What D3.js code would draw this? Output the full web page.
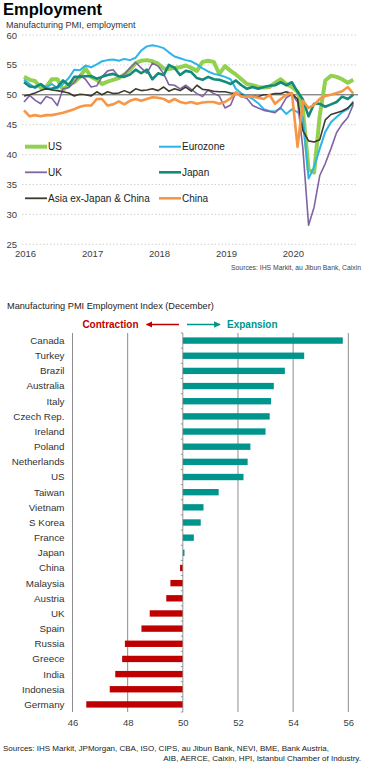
<!DOCTYPE html>
<html>
<head>
<meta charset="utf-8">
<script src="https://cdn.jsdelivr.net/npm/d3@7"></script>
<style>
  html, body { margin: 0; padding: 0; background: #fff; }
  svg { display: block; font-family: "Liberation Sans", Arial, sans-serif; }
</style>
</head>
<body>
<svg id="chart" width="374" height="783"></svg>
<script>
// --- line chart data (monthly, Jan 2016 - Dec 2020) ---
const months = d3.timeMonth.range(new Date(2016, 0, 1), new Date(2021, 0, 1));
const yearTicks = [2016, 2017, 2018, 2019, 2020];
const lineTicks = [25, 30, 35, 40, 45, 50, 55, 60];

const usVals = [53, 52.5, 52.3, 51.2, 51.3, 52.6, 52.6, 50.8, 51.8, 52.1, 53, 54.4,
  53, 52.5, 51.8, 52.2, 52.5, 52.8, 53.4, 54.2, 55.3, 55.7, 55.8, 55.6,
  55.2, 54.4, 54.3, 54.5, 54.6, 54.9, 54.5, 54, 55.5, 55.7, 55.5, 53.5,
  54.8, 54, 53.4, 52.6, 51.8, 51.6, 51.3, 51.2, 51.3, 52, 52.6, 51.8,
  51.3, 50.5, 47.5, 37.5, 37, 46.5, 52.4, 53.2, 53, 52.6, 52, 52.5];
const ezVals = [52.5, 51.8, 51.1, 51.8, 51.3, 51.8, 51.1, 51.8, 52.8, 54.2, 54.1, 54.9,
  54.6, 55.1, 55.6, 55.8, 55.9, 55.7, 56, 55.8, 56.2, 57.4, 58.1, 58.3,
  58.1, 57.8, 57.1, 56.4, 56.1, 55.8, 55.6, 55.1, 54.4, 53.9, 53.5, 53.3,
  53, 52.6, 51, 50.2, 49.8, 49.3, 48.6, 47.6, 47.3, 47.2, 47.8, 46.8,
  47.6, 47.1, 46.2, 36, 37.9, 41, 43.8, 45.4, 46.3, 47.1, 47.6, 48.9];
const ukVals = [48.8, 49.9, 49.1, 48.5, 49.7, 49.4, 48.2, 51, 51.2, 52.1, 53.3, 52.6,
  51.3, 51.5, 53, 54, 54.2, 53, 53.4, 54.5, 55.4, 54.5, 53.6, 55.3,
  54.8, 53.5, 51.7, 51.6, 51, 51.6, 50.9, 50.2, 49.7, 50.8, 50.2, 49.8,
  47.8, 48.3, 50.4, 49.7, 49.4, 48.2, 47.8, 47.4, 47.2, 47, 47.9, 49.5,
  50.1, 48.8, 41, 28.2, 31.2, 36.5, 38.5, 41, 43.7, 45.1, 46.2, 48.4];
const jpVals = [52.1, 51.4, 51.3, 51.8, 51, 51, 51.3, 52.4, 51.6, 53, 53, 53.1,
  53.1, 52.7, 53, 53.3, 53.5, 53.1, 53, 53.4, 54.2, 53.6, 54.2, 52.6,
  53.6, 53.3, 55, 54.5, 53.3, 54, 53.8, 52.8, 52.5, 53, 52.6, 52.5,
  52.2, 51.8, 52.4, 51.6, 51, 51.3, 51, 51.3, 51.5, 51.6, 52.1, 51.6,
  52.1, 50.5, 49.2, 46.4, 48.5, 48.5, 48, 48.4, 48.8, 49.7, 49.3, 50];
const asiaVals = [49.8, 50, 50.3, 50.7, 51, 50.8, 50.7, 50.5, 50.3, 49.8, 50.1, 50,
  49.8, 50.5, 50, 50.5, 50.2, 50.3, 50.7, 50.3, 51, 50.7, 50.8, 51,
  50.7, 51.3, 50.6, 51, 50.7, 51.3, 50.6, 51.6, 50.9, 50.8, 50.6, 50.5,
  50.5, 50.3, 50.2, 50, 49.7, 49.8, 49.7, 50, 50, 50.2, 50.2, 50.5,
  50.2, 49.3, 44, 42.3, 42.1, 42.5, 45.8, 46.7, 47, 47.3, 47.8, 48.7];
const cnVals = [47.4, 46.4, 46.6, 46.4, 46.6, 46.6, 46.8, 47, 47.3, 47.6, 48, 48.2,
  48.2, 49.3, 49.3, 48.2, 48.4, 48.9, 48.4, 49, 49.3, 49, 49.3, 49.6,
  49.5, 49.3, 48.8, 49.3, 48.8, 48.6, 48.8, 48.5, 48.7, 48.8, 48.8, 48.5,
  48.8, 49.4, 50.4, 49.7, 49.7, 49.7, 49.5, 49.3, 50, 48.5, 49.3, 50,
  50.3, 41.3, 49, 47.8, 48.3, 49.3, 49.8, 50, 50.3, 50.6, 51.3, 50.2];

const seriesNames = ["US", "Eurozone", "UK", "Japan", "Asia ex-Japan & China", "China"];
const seriesColors = ["#92d050", "#2db4e8", "#8064a2", "#138a7b", "#3d3b2e", "#f79646"];
const seriesWidths = [4, 2, 1.6, 2.6, 1.6, 2.6];
const seriesVals = [usVals, ezVals, ukVals, jpVals, asiaVals, cnVals];

// --- bar chart data (December 2020) ---
const countries = ["Canada", "Turkey", "Brazil", "Australia", "Italy", "Czech Rep.", "Ireland",
  "Poland", "Netherlands", "US", "Taiwan", "Vietnam", "S Korea", "France", "Japan", "China",
  "Malaysia", "Austria", "UK", "Spain", "Russia", "Greece", "India", "Indonesia", "Germany"];
const empIndex = [55.8, 54.4, 53.7, 53.3, 53.2, 53.15, 53.0, 52.45, 52.35, 52.2, 51.3, 50.75,
  50.65, 50.4, 50.06, 49.9, 49.55, 49.4, 48.8, 48.5, 47.9, 47.8, 47.55, 47.35, 46.5];
const barTicks = [46, 48, 50, 52, 54, 56];

const svg = d3.select("#chart");

// ===== top chart =====
svg.append("text").attr("x", 3).attr("y", 15)
  .style("font-size", "16.5px").style("font-weight", "bold").attr("fill", "#000")
  .text("Employment");
svg.append("text").attr("x", 6).attr("y", 27.5)
  .style("font-size", "9px").attr("fill", "#333")
  .text("Manufacturing  PMI, employment");

const x = d3.scaleTime()
  .domain([new Date(2016, 0, 1), new Date(2021, 0, 1)])
  .range([24, 359]);
const y = d3.scaleLinear().domain([25, 60]).range([244.3, 35]);

const grid = svg.append("g");
grid.selectAll("line")
  .data(lineTicks.filter(d => d !== 50))
  .join("line")
  .attr("x1", 22).attr("x2", 358)
  .attr("y1", d => y(d)).attr("y2", d => y(d))
  .attr("stroke", "#c8c8c8").attr("stroke-width", 0.8)
  .attr("stroke-dasharray", "1.5,2");

svg.append("g")
  .attr("transform", "translate(19,0)")
  .call(d3.axisLeft(y).tickValues(lineTicks).tickSize(0).tickPadding(2))
  .call(g => g.select(".domain").remove())
  .call(g => g.selectAll("text").attr("fill", "#404040")
    .style("font-size", "9.5px").style("font-family", "Liberation Sans, Arial"));

svg.append("g")
  .attr("transform", "translate(1,250)")
  .call(d3.axisBottom(x).tickValues(yearTicks.map(yr => new Date(yr, 0, 1)))
    .tickFormat(d3.timeFormat("%Y")).tickSize(0).tickPadding(0))
  .call(g => g.select(".domain").remove())
  .call(g => g.selectAll("text").attr("fill", "#404040")
    .style("font-size", "9.5px").style("font-family", "Liberation Sans, Arial"));

// 50 line
svg.append("line")
  .attr("x1", 22).attr("x2", 358)
  .attr("y1", y(50)).attr("y2", y(50))
  .attr("stroke", "#595959").attr("stroke-width", 1);

const line = d3.line()
  .x((d, i) => x(months[i]))
  .y(d => y(d));

const drawOrder = [0, 1, 2, 3, 4, 5];
svg.append("g")
  .selectAll("path")
  .data(drawOrder)
  .join("path")
  .attr("d", i => line(seriesVals[i]))
  .attr("fill", "none")
  .attr("stroke", i => seriesColors[i])
  .attr("stroke-width", i => seriesWidths[i])
  .attr("stroke-linejoin", "round");

// legend
const legendPos = [[25, 146.7], [159, 146.7], [25, 172.3], [159, 172.3], [25, 198.3], [159, 198.3]];
const lg = svg.append("g").selectAll("g")
  .data(seriesNames)
  .join("g")
  .attr("transform", (d, i) => `translate(${legendPos[i][0]},${legendPos[i][1]})`);
lg.append("line")
  .attr("x1", 0).attr("x2", 22)
  .attr("stroke", (d, i) => seriesColors[i])
  .attr("stroke-width", (d, i) => Math.max(seriesWidths[i], 1.8));
lg.append("text")
  .attr("x", 23).attr("dy", "0.35em")
  .style("font-size", "10px").attr("fill", "#222")
  .text(d => d);

svg.append("text").attr("x", 361).attr("y", 269.5)
  .attr("text-anchor", "end")
  .style("font-size", "6.8px").attr("fill", "#444")
  .text("Sources: IHS Markit, au Jibun Bank, Caixin");

// ===== bar chart =====
svg.append("text").attr("x", 7).attr("y", 309)
  .style("font-size", "9.2px").attr("fill", "#222")
  .text("Manufacturing PMI Employment Index (December)");

const bx = d3.scaleLinear().domain([46, 56]).range([72.5, 348.3]);
const by = d3.scaleBand().domain(countries).range([333, 712]).paddingInner(0.58).paddingOuter(0.29);
const step = by.step();

// gridlines
svg.append("g")
  .selectAll("line")
  .data(barTicks.filter(d => d !== 50))
  .join("line")
  .attr("x1", d => bx(d)).attr("x2", d => bx(d))
  .attr("y1", 333).attr("y2", 712)
  .attr("stroke", "#8c8c8c").attr("stroke-width", 1);

svg.append("g")
  .selectAll("rect")
  .data(countries)
  .join("rect")
  .attr("x", (d, i) => bx(Math.min(50, empIndex[i])))
  .attr("width", (d, i) => Math.abs(bx(empIndex[i]) - bx(50)))
  .attr("y", d => by(d))
  .attr("height", by.bandwidth())
  .attr("fill", (d, i) => empIndex[i] >= 50 ? "#00958c" : "#c00000");

// axis at 50 with small ticks at band boundaries
svg.append("line")
  .attr("x1", bx(50)).attr("x2", bx(50))
  .attr("y1", 333).attr("y2", 712)
  .attr("stroke", "#7f7f7f").attr("stroke-width", 0.8);
svg.append("g")
  .selectAll("line")
  .data(d3.range(countries.length + 1))
  .join("line")
  .attr("x1", bx(50) - 2).attr("x2", bx(50))
  .attr("y1", i => 333 + i * step).attr("y2", i => 333 + i * step)
  .attr("stroke", "#7f7f7f").attr("stroke-width", 0.8);

// country labels
svg.append("g")
  .selectAll("text")
  .data(countries)
  .join("text")
  .attr("x", 64.5)
  .attr("y", d => by(d) + by.bandwidth() / 2)
  .attr("dy", "0.35em")
  .attr("text-anchor", "end")
  .style("font-size", "9.8px").attr("fill", "#333")
  .text(d => d);

svg.append("g")
  .attr("transform", "translate(0,716)")
  .call(d3.axisBottom(bx).tickValues(barTicks).tickSize(0).tickPadding(3))
  .call(g => g.select(".domain").remove())
  .call(g => g.selectAll("text").attr("fill", "#404040")
    .style("font-size", "9.5px").style("font-family", "Liberation Sans, Arial"));

// contraction / expansion header
const defs = svg.append("defs");
[["arrRed", "#c00000"], ["arrTeal", "#00958c"]].forEach(([id, c]) => {
  defs.append("marker").attr("id", id)
    .attr("viewBox", "0 0 10 10").attr("refX", 9).attr("refY", 5)
    .attr("markerWidth", 5).attr("markerHeight", 5).attr("orient", "auto")
    .append("path").attr("d", "M0,0L10,5L0,10z").attr("fill", c);
});
svg.append("line").attr("x1", 179).attr("x2", 146.5).attr("y1", 324.5).attr("y2", 324.5)
  .attr("stroke", "#c00000").attr("stroke-width", 1.3).attr("marker-end", "url(#arrRed)");
svg.append("line").attr("x1", 187).attr("x2", 220).attr("y1", 324.5).attr("y2", 324.5)
  .attr("stroke", "#00958c").attr("stroke-width", 1.3).attr("marker-end", "url(#arrTeal)");
svg.append("text").attr("x", 138.5).attr("y", 328)
  .attr("text-anchor", "end").style("font-size", "10px").style("font-weight", "bold")
  .attr("fill", "#c00000").text("Contraction");
svg.append("text").attr("x", 227).attr("y", 328)
  .style("font-size", "10px").style("font-weight", "bold")
  .attr("fill", "#00958c").text("Expansion");

// footer
svg.append("text").attr("x", 3).attr("y", 750.5)
  .style("font-size", "8px").attr("fill", "#222")
  .text("Sources: IHS Markit, JPMorgan, CBA, ISO, CIPS, au Jibun Bank, NEVI, BME, Bank Austria,");
svg.append("text").attr("x", 361).attr("y", 760.5)
  .attr("text-anchor", "end")
  .style("font-size", "8px").attr("fill", "#222")
  .text("AIB, AERCE, Caixin, HPI, Istanbul Chamber of Industry.");
</script>
</body>
</html>
